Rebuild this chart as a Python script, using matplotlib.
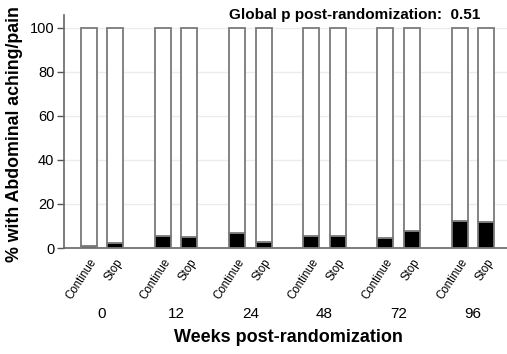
import matplotlib
matplotlib.use("Agg")
import matplotlib.pyplot as plt
import numpy as np

plt.rcParams['font.family'] = ['Liberation Sans', 'DejaVu Sans']

weeks = ["0", "12", "24", "48", "72", "96"]
arms = ["Continue", "Stop"]
continue_pct = [1.0, 5.5, 7.0, 5.5, 4.4, 12.4]
stop_pct = [2.4, 5.1, 2.6, 5.5, 7.9, 11.7]
yticks = [0, 20, 40, 60, 80, 100]
title_text = "Global p post-randomization:  0.51"

fig = plt.figure(figsize=(5.07, 3.54), dpi=100)
ax = fig.add_axes([64/507, 106/354, 1 - 64/507, (248-15)/354])

g = np.arange(len(weeks))
off = 0.179
w = 0.215
edge = "#7a7a7a"
for vals, sign in [(continue_pct, -1), (stop_pct, 1)]:
    x = g + sign*off
    v = np.array(vals)
    ax.bar(x, v, width=w, color="black", edgecolor=edge, linewidth=1.3, zorder=3)
    ax.bar(x, 100 - v, bottom=v, width=w, color="white", edgecolor=edge, linewidth=1.3, zorder=3)

ax.set_xlim(-0.512, 5.46)
ax.set_ylim(0, 105.9)
ax.set_yticks(yticks)
ax.set_yticklabels([str(t) for t in yticks], fontsize=10.5)
ax.yaxis.grid(True, color="#e6eef0", linewidth=1, zorder=0)
ax.set_axisbelow(True)

xs = np.concatenate([g - off, g + off])
labs = [arms[0]]*len(g) + [arms[1]]*len(g)
ax.set_xticks(xs)
ax.set_xticklabels(labs, rotation=57, ha="right", rotation_mode="anchor", fontsize=8.3)
ax.tick_params(axis="x", length=0, pad=6)
ax.tick_params(axis="y", length=5, width=1, color="#555555", direction="out", pad=2)

for sp in ["top", "right"]:
    ax.spines[sp].set_visible(False)
for sp in ["left", "bottom"]:
    ax.spines[sp].set_color("#666666")
    ax.spines[sp].set_linewidth(1.2)

for i, wk in enumerate(weeks):
    ax.text(g[i], -29.8, wk, ha="center", va="center", fontsize=11,
            transform=ax.transData, clip_on=False)

fig.text(288/507, (354-337)/354, "Weeks post-randomization", ha="center", va="center",
         fontsize=13, fontweight="bold")
fig.text(15/507, (354-134)/354, "% with Abdominal aching/pain", ha="center", va="center",
         rotation=90, fontsize=12.8, fontweight="bold")
fig.text(480/507, (354-15)/354, title_text, ha="right", va="center", fontsize=11, fontweight="bold")

fig.savefig("out.png", dpi=100)
